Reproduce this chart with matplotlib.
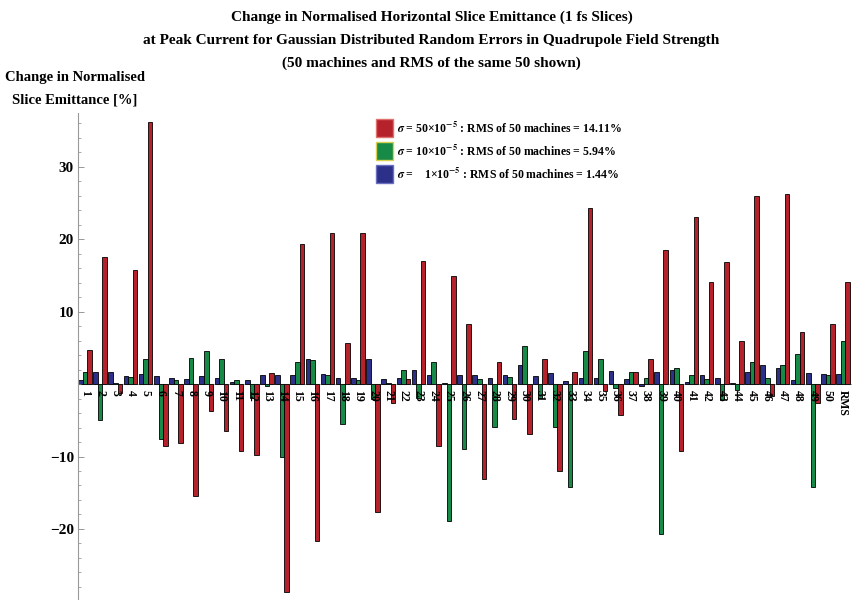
import numpy as np
import matplotlib.pyplot as plt
from matplotlib.patches import Rectangle

plt.rcParams['font.family'] = ['Liberation Serif', 'DejaVu Serif']
plt.rcParams['font.weight'] = 'bold'
plt.rcParams['mathtext.fontset'] = 'stix'

# machine labels 1..50 plus the RMS column
labels = [str(i) for i in range(1, 51)] + ['RMS']

# change in slice emittance [%] for each sigma
red_50 = [4.7, 17.5, -1.3, 15.8, 36.2, -8.6, -8.2, -15.5, -3.7, -6.5,
          -9.3, -9.8, 1.5, -28.7, 19.3, -21.6, 20.8, 5.6, 20.8, -17.6,
          -2.6, 0.7, 17.0, -8.6, 14.9, 8.3, -13.1, 3.0, -4.8, -6.9,
          3.4, -12.0, 1.7, 24.3, -1.0, -4.3, 1.7, 3.4, 18.5, -9.2,
          23.0, 14.1, 16.9, 6.0, 26.0, -1.6, 26.2, 7.2, -2.6, 8.3,
          14.11]
green_10 = [1.6, -5.0, 0.1, 1.0, 3.4, -7.6, 0.5, 3.6, 4.5, 3.5,
            0.5, -1.9, -0.3, -10.0, 3.1, 3.3, 1.3, -5.5, 0.6, -2.0,
            0.1, 1.9, -1.9, 3.0, -18.9, -9.0, 0.7, -5.9, 1.0, 5.2,
            -1.9, -5.9, -14.2, 4.5, 3.4, -0.6, 1.7, 0.8, -20.7, 2.2,
            1.2, 0.7, -2.2, -0.8, 3.0, 0.8, 2.6, 4.2, -14.2, 1.3,
            5.94]
blue_1 = [0.5, 1.6, 1.6, 1.1, 1.4, 1.1, 0.8, 0.7, 1.1, 0.9,
          0.3, 0.6, 1.3, 1.3, 1.3, 3.4, 1.4, 0.9, 0.8, 3.4,
          0.7, 0.9, 2.0, 1.3, 0.1, 1.3, 1.3, 0.8, 1.3, 2.6,
          1.1, 1.5, 0.4, 0.9, 0.8, 1.8, 0.7, -0.3, 1.6, 1.9,
          0.3, 1.2, 0.9, 0.1, 1.6, 2.6, 2.2, 0.5, 1.5, 1.4,
          1.44]

legend_text = [r'$\sigma$ = 50×10$^{-5}$ : RMS of 50 machines = 14.11%',
               r'$\sigma$ = 10×10$^{-5}$ : RMS of 50 machines = 5.94%',
               r'$\sigma$ =    1×10$^{-5}$ : RMS of 50 machines = 1.44%']

c_red = '#b5222c'
c_green = '#178a48'
c_blue = '#2c3088'

fig = plt.figure(figsize=(8.63, 6.0), dpi=100)
ax = fig.add_axes([0.0904, 0.0, 0.8966, 0.8117])

x = np.arange(1, len(labels) + 1)
w = 0.3
ax.bar(x - w, blue_1, w, color=c_blue, edgecolor='black', linewidth=0.6)
ax.bar(x, green_10, w, color=c_green, edgecolor='black', linewidth=0.6)
ax.bar(x + w, red_50, w, color=c_red, edgecolor='black', linewidth=0.6)

ax.set_xlim(0.54, 51.57)
ax.set_ylim(-29.8, 37.4)

for s in ['top', 'right', 'bottom']:
    ax.spines[s].set_visible(False)
ax.spines['left'].set_color('#999999')
ax.spines['left'].set_linewidth(0.8)
ax.axhline(0, color='#aaaaaa', lw=0.8, zorder=0)

ax.set_xticks([])
ax.set_yticks([-20, -10, 10, 20, 30])
ax.set_yticks(np.arange(-28, 37, 2), minor=True)
ax.tick_params(axis='y', which='major', direction='in', length=4, width=0.6,
               color='#888888', labelsize=11, pad=3)
ax.tick_params(axis='y', which='minor', direction='in', length=2, width=0.5,
               color='#888888')
for t in ax.get_yticklabels():
    t.set_fontweight('bold')

# machine labels just under the zero line
for xi, lab in zip(x, labels):
    ax.text(xi, -0.8, lab, rotation=-90, ha='center', va='top',
            fontsize=8.5, fontweight='bold')

# titles
fig.text(0.5, 0.972, 'Change in Normalised Horizontal Slice Emittance (1 fs Slices)',
         ha='center', va='center', fontsize=11, fontweight='bold')
fig.text(0.5, 0.933, 'at Peak Current for Gaussian Distributed Random Errors in Quadrupole Field Strength',
         ha='center', va='center', fontsize=11, fontweight='bold')
fig.text(0.5, 0.895, '(50 machines and RMS of the same 50 shown)',
         ha='center', va='center', fontsize=11, fontweight='bold')
fig.text(0.087, 0.870, 'Change in Normalised', ha='center', va='center',
         fontsize=10.5, fontweight='bold')
fig.text(0.087, 0.833, 'Slice Emittance [%]', ha='center', va='center',
         fontsize=10.5, fontweight='bold')

# legend swatches
rows_y = [128, 151, 174]
for yy, col, ec, txt in zip(rows_y, [c_red, c_green, c_blue],
                            ['#e07070', '#d8d050', '#6a70c0'], legend_text):
    fig.patches.append(Rectangle((376 / 863, 1 - (yy + 9) / 600), 17 / 863, 18 / 600,
                                 transform=fig.transFigure, facecolor=col,
                                 edgecolor=ec, linewidth=1.0))
    fig.text(397 / 863, 1 - yy / 600, txt, ha='left', va='center',
             fontsize=8.5, fontweight='bold')

fig.savefig('out.png', dpi=100)
